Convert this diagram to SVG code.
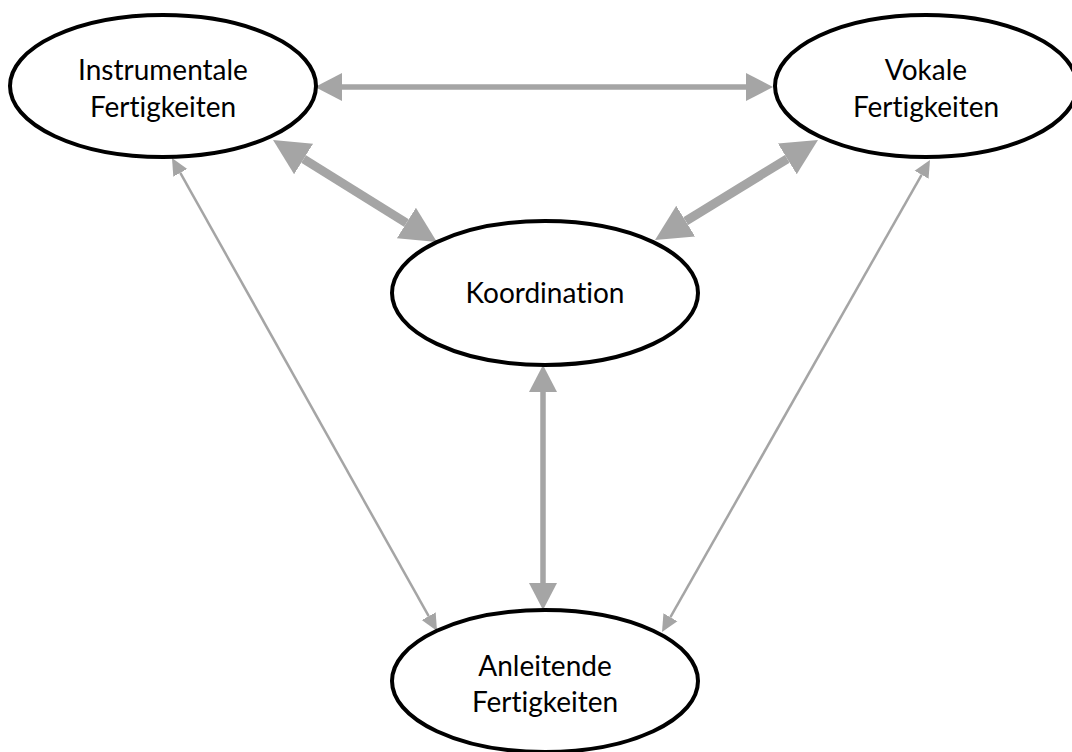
<svg xmlns="http://www.w3.org/2000/svg" width="1072" height="752" viewBox="0 0 1072 752">
  <style>
    .node { fill: #ffffff; stroke: #000000; stroke-width: 4; }
    .label { font-family: Lato, "Liberation Sans", sans-serif; font-size: 28px; fill: #000000; text-anchor: middle; font-variant-ligatures: none; font-feature-settings: "liga" 0; }
    .link { fill: none; stroke: #a5a5a5; }
    .thick { stroke-width: 9; }
    .mid { stroke-width: 5.5; }
    .thin { stroke-width: 2.5; }
  </style>
  <defs>
    <!-- arrowheads drawn from their base (x=0) forward to the tip -->
    <marker id="headL" markerUnits="userSpaceOnUse" markerWidth="40" markerHeight="40" viewBox="0 -20 40 40" refX="0" refY="0" orient="auto-start-reverse">
      <path d="M0,-18 L36,0 L0,18 Z" fill="#a5a5a5"/>
    </marker>
    <marker id="headM" markerUnits="userSpaceOnUse" markerWidth="30" markerHeight="30" viewBox="0 -15 30 30" refX="0" refY="0" orient="auto-start-reverse">
      <path d="M0,-14 L27,0 L0,14 Z" fill="#a5a5a5"/>
    </marker>
    <marker id="headS" markerUnits="userSpaceOnUse" markerWidth="20" markerHeight="20" viewBox="0 -10 20 20" refX="0" refY="0" orient="auto-start-reverse">
      <path d="M0,-8 L17,0 L0,8 Z" fill="#a5a5a5"/>
    </marker>
  </defs>
  <rect width="1072" height="752" fill="#ffffff"/>

  <g id="connectors">
    <line class="link mid" x1="342" y1="87" x2="746" y2="87" marker-start="url(#headM)" marker-end="url(#headM)"/>
    <line class="link thick" x1="303.6" y1="159" x2="406.4" y2="223" marker-start="url(#headL)" marker-end="url(#headL)"/>
    <line class="link thick" x1="787.3" y1="158.8" x2="685.7" y2="221.2" marker-start="url(#headL)" marker-end="url(#headL)"/>
    <line class="link mid" x1="543" y1="392" x2="543" y2="583" marker-start="url(#headM)" marker-end="url(#headM)"/>
    <line class="link thin" x1="180.3" y1="172.8" x2="428.7" y2="616.2" marker-start="url(#headS)" marker-end="url(#headS)"/>
    <line class="link thin" x1="921.6" y1="174.8" x2="670.4" y2="617.2" marker-start="url(#headS)" marker-end="url(#headS)"/>
  </g>

  <g id="instrumentale">
    <ellipse class="node" cx="163" cy="86" rx="153" ry="71"/>
    <text class="label" x="163" y="80">Instrumentale</text>
    <text class="label" x="163" y="117">Fertigkeiten</text>
  </g>

  <g id="vokale">
    <ellipse class="node" cx="926" cy="86" rx="151" ry="71"/>
    <text class="label" x="926" y="80">Vokale</text>
    <text class="label" x="926" y="117">Fertigkeiten</text>
  </g>

  <g id="koordination">
    <ellipse class="node" cx="545" cy="293" rx="153" ry="72"/>
    <text class="label" x="545" y="303">Koordination</text>
  </g>

  <g id="anleitende">
    <ellipse class="node" cx="545" cy="681" rx="153" ry="71"/>
    <text class="label" x="545" y="676">Anleitende</text>
    <text class="label" x="545" y="712">Fertigkeiten</text>
  </g>
</svg>
